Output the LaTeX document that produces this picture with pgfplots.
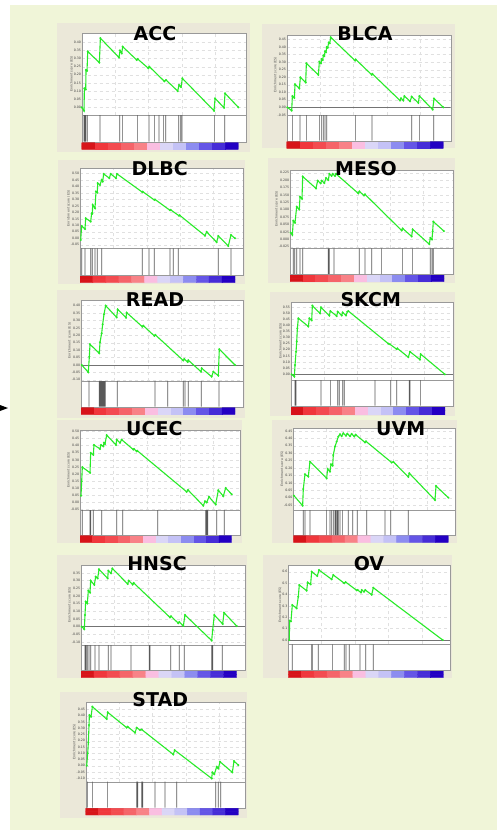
\documentclass[border=0pt]{standalone}
\usepackage{pgfplots}
\pgfplotsset{compat=1.18}
\usepackage{fontspec}
\setmainfont{DejaVu Sans}
\definecolor{bggreen}{RGB}{240,245,216}
\definecolor{framecol}{RGB}{235,232,217}
\definecolor{esgreen}{RGB}{40,235,40}
\newcommand\tickfont{\fontsize{3.2}{3.4}\selectfont}
\newcommand\titlefont{\fontsize{19}{19}\selectfont\bfseries}
\pgfplotsset{
  colormap={gseacb}{rgb255=(215,20,25) rgb255=(240,55,60) rgb255=(243,75,80) rgb255=(245,100,105) rgb255=(248,130,135) rgb255=(250,190,225) rgb255=(218,214,247) rgb255=(196,194,246) rgb255=(140,140,240) rgb255=(100,85,230) rgb255=(70,45,215) rgb255=(35,0,195)},
  es/.style={scale only axis, anchor=north west, xmin=0,
    axis background/.style={fill=white},
    axis line style={black!40, line width=0.3pt},
    xtick={100,200,300,400}, xticklabels={},
    ymajorgrids, xmajorgrids, major grid style={black!12, dashed, line width=0.3pt},
    major tick length=0pt,
    ylabel={Enrichment score (ES)},
    ylabel style={font=\tickfont, text=black!70, inner sep=0pt},
    yticklabel style={font=\tickfont, text=black!75, inner sep=0.6pt, /pgf/number format/.cd, fixed, fixed zerofill, precision=2, assume math mode=true},
  },
  hits/.style={scale only axis, anchor=north west, xmin=0, ymin=0, ymax=1,
    axis background/.style={fill=white}, ticks=none,
    axis line style={black!40, line width=0.3pt}},
  cbar/.style={scale only axis, anchor=north west, xmin=-0.5, xmax=11.5, ymin=-0.5, ymax=1.5, hide axis, colormap name=gseacb, colormap access=direct},
  esline/.style={esgreen, line width=1.1pt, mark=*, mark size=0.35pt, mark options={esgreen}},
  hitline/.style={ybar, bar width=0.7pt, fill=black!65, draw=none, mark=none},
  zeroline/.style={black!55, line width=0.35pt, mark=none},
}
\newcommand\cbarplot{\addplot[matrix plot*, mesh/cols=12, mesh/rows=2, point meta=explicit] coordinates {(0,0) [0] (1,0) [1] (2,0) [2] (3,0) [3] (4,0) [4] (5,0) [5] (6,0) [6] (7,0) [7] (8,0) [8] (9,0) [9] (10,0) [10] (11,0) [11] (0,1) [0] (1,1) [1] (2,1) [2] (3,1) [3] (4,1) [4] (5,1) [5] (6,1) [6] (7,1) [7] (8,1) [8] (9,1) [9] (10,1) [10] (11,1) [11]};}
\begin{document}
\begin{tikzpicture}
\path[use as bounding box] (0pt,0pt) rectangle (497pt,-830pt);
\fill[bggreen] (10pt,-5pt) rectangle (497pt,-830pt);
\fill[black] (0pt,-405pt) -- (8pt,-408pt) -- (0pt,-411pt) -- cycle;

% ---------- ACC ----------
\fill[framecol] (56.7pt,-23.3pt) rectangle (250pt,-151.7pt);
\begin{axis}[es, at={(81.7pt,-33.3pt)}, width=164pt, height=81.7pt, xmax=492, ymin=-0.047, ymax=0.455,
  ytick={0,0.05,0.1,0.15,0.2,0.25,0.3,0.35,0.4}]
\addplot[esline] coordinates {(0,0.000) (7,-0.021) (8,0.117) (12,0.110) (13,0.230) (16,0.225) (18,0.343) (53,0.275) (56,0.425) (112,0.306) (115,0.349) (120,0.332) (123,0.373) (165,0.291) (168,0.297) (200,0.240) (203,0.250) (248,0.160) (253,0.168) (288,0.100) (292,0.137) (298,0.125) (302,0.178) (397,-0.021) (400,0.055) (427,-0.002) (430,0.086) (470,0.000)};
\end{axis}
\begin{axis}[hits, at={(81.7pt,-115pt)}, width=164pt, height=26.7pt, xmax=492]
\addplot[hitline] coordinates {(7,1) (10,1) (13,1) (17,1) (55,1) (114,1) (122,1) (167,1) (202,1) (218,1) (232,1) (245,1) (252,1) (291,1) (297,1) (301,1) (398,1) (429,1)};
\end{axis}
\begin{axis}[cbar, at={(81.7pt,-142.7pt)}, width=156.6pt, height=6.6pt]
\cbarplot
\end{axis}
\node[font=\titlefont] at (155pt,-33.3pt) {ACC};

% ---------- BLCA ----------
\fill[framecol] (261.7pt,-24pt) rectangle (455pt,-148.3pt);
\begin{axis}[es, at={(286.7pt,-35pt)}, width=164pt, height=80pt, xmax=492, ymin=-0.051, ymax=0.48,
  ytick={-0.05,0,0.05,0.1,0.15,0.2,0.25,0.3,0.35,0.4,0.45}]
\addplot[zeroline] coordinates {(0,0) (492,0)};
\addplot[esline] coordinates {(2,0) (15,-0.022) (17,0.075) (23,0.062) (25,0.153) (38,0.125) (41,0.199) (57,0.165) (59,0.292) (95,0.215) (98,0.303) (103,0.292) (105,0.320) (108,0.314) (110,0.345) (113,0.340) (115,0.372) (118,0.366) (120,0.400) (123,0.395) (126,0.430) (129,0.425) (132,0.465) (205,0.310) (207,0.318) (255,0.216) (257,0.222) (340,0.045) (343,0.060) (350,0.045) (353,0.075) (370,0.040) (375,0.071) (395,0.029) (398,0.075) (438,-0.015) (442,0.058) (470,0)};
\end{axis}
\begin{axis}[hits, at={(286.7pt,-115pt)}, width=164pt, height=25.7pt, xmax=492]
\addplot[hitline] coordinates {(17,1) (40,1) (59,1) (98,1) (105,1) (110,1) (115,1) (120,1) (206,1) (256,1) (375,1) (398,1) (441,1)};
\end{axis}
\begin{axis}[cbar, at={(286.7pt,-141.7pt)}, width=156.6pt, height=6.6pt]
\cbarplot
\end{axis}
\node[font=\titlefont] at (365pt,-33.3pt) {BLCA};

% ---------- DLBC ----------
\fill[framecol] (58.3pt,-160pt) rectangle (245pt,-284pt);
\begin{axis}[es, at={(80pt,-168.3pt)}, width=163.3pt, height=80pt, xmax=490, ymin=-0.077, ymax=0.54,
  ytick={-0.05,0,0.05,0.1,0.15,0.2,0.25,0.3,0.35,0.4,0.45,0.5}]
\addplot[esline] coordinates {(2,-0.013) (5,0.095) (15,0.072) (17,0.155) (32,0.129) (35,0.193) (37,0.190) (38,0.258) (45,0.232) (48,0.361) (52,0.353) (53,0.425) (60,0.412) (65,0.451) (68,0.438) (71,0.497) (88,0.464) (92,0.497) (108,0.464) (111,0.497) (187,0.356) (188,0.360) (223,0.296) (225,0.300) (270,0.216) (272,0.220) (297,0.174) (299,0.178) (375,0.020) (380,0.050) (410,-0.030) (415,0.018) (445,-0.059) (453,0.026) (465,0.0)};
\end{axis}
\begin{axis}[hits, at={(80pt,-248.3pt)}, width=163.3pt, height=26.7pt, xmax=490]
\addplot[hitline] coordinates {(5,1) (15,1) (32,1) (37,1) (45,1) (52,1) (65,1) (187,1) (207,1) (223,1) (270,1) (280,1) (295,1) (415,1) (453,1)};
\end{axis}
\begin{axis}[cbar, at={(80pt,-276pt)}, width=155pt, height=6.7pt]
\cbarplot
\end{axis}
\node[font=\titlefont] at (159.7pt,-168.3pt) {DLBC};

% ---------- MESO ----------
\fill[framecol] (268.3pt,-158.3pt) rectangle (455pt,-283pt);
\begin{axis}[es, at={(290pt,-170pt)}, width=163.3pt, height=78.3pt, xmax=490, ymin=-0.030, ymax=0.234,
  ytick={-0.025,0,0.025,0.05,0.075,0.1,0.125,0.15,0.175,0.2,0.225},
  yticklabel style={/pgf/number format/precision=3}]
\addplot[esline] coordinates {(2,0.023) (7,0.015) (10,0.063) (15,0.056) (20,0.110) (28,0.101) (30,0.144) (36,0.137) (38,0.212) (78,0.172) (83,0.198) (92,0.189) (95,0.198) (103,0.190) (108,0.207) (115,0.200) (118,0.221) (125,0.214) (128,0.221) (135,0.214) (138,0.221) (205,0.155) (208,0.162) (222,0.148) (225,0.152) (335,0.030) (338,0.037) (365,0.010) (368,0.034) (418,-0.016) (421,0.005) (426,0.000) (428,0.026) (430,0.060) (462,0.028)};
\end{axis}
\begin{axis}[hits, at={(290pt,-248.3pt)}, width=163.3pt, height=25.7pt, xmax=490]
\addplot[hitline] coordinates {(10,1) (14,1) (20,1) (30,1) (38,1) (115,1) (118,1) (132,1) (208,1) (225,1) (245,1) (275,1) (338,1) (368,1) (421,1) (426,1) (430,1)};
\end{axis}
\begin{axis}[cbar, at={(290pt,-275pt)}, width=154pt, height=6.7pt]
\cbarplot
\end{axis}
\node[font=\titlefont] at (366pt,-168.3pt) {MESO};

% ---------- READ ----------
\fill[framecol] (56.7pt,-290pt) rectangle (245pt,-418pt);
\begin{axis}[es, at={(81pt,-300pt)}, width=162.3pt, height=81pt, xmax=487, ymin=-0.108, ymax=0.438,
  ytick={-0.1,-0.05,0,0.05,0.1,0.15,0.2,0.25,0.3,0.35,0.4}]
\addplot[zeroline] coordinates {(0,0) (487,0)};
\addplot[esline] coordinates {(2,0) (22,-0.049) (25,0.056) (27,0.139) (55,0.079) (57,0.153) (62,0.213) (65,0.274) (69,0.342) (74,0.400) (107,0.321) (110,0.375) (135,0.319) (137,0.353) (184,0.258) (187,0.265) (220,0.196) (223,0.203) (307,0.030) (310,0.040) (320,0.020) (322,0.032) (360,-0.045) (362,-0.022) (392,-0.079) (397,-0.045) (412,-0.072) (415,0.106) (462,0.0)};
\end{axis}
\begin{axis}[hits, at={(81pt,-381pt)}, width=162.3pt, height=25.7pt, xmax=487]
\addplot[hitline] coordinates {(24,1) (55,1) (58,1) (61,1) (64,1) (67,1) (70,1) (73,1) (109,1) (222,1) (260,1) (307,1) (312,1) (322,1) (361,1) (414,1)};
\end{axis}
\begin{axis}[cbar, at={(81pt,-407.7pt)}, width=154pt, height=6.6pt]
\cbarplot
\end{axis}
\node[font=\titlefont] at (155pt,-300pt) {READ};

% ---------- SKCM ----------
\fill[framecol] (270pt,-291.7pt) rectangle (455pt,-416pt);
\begin{axis}[es, at={(290.7pt,-301.7pt)}, width=162.6pt, height=78.3pt, xmax=488, ymin=-0.046, ymax=0.592,
  ytick={0,0.05,0.1,0.15,0.2,0.25,0.3,0.35,0.4,0.45,0.5,0.55}]
\addplot[zeroline] coordinates {(0,0) (488,0)};
\addplot[esline] coordinates {(3,0) (11,-0.019) (13,0.076) (16,0.185) (18,0.266) (20,0.375) (23,0.457) (53,0.390) (56,0.457) (63,0.440) (65,0.560) (88,0.497) (91,0.546) (116,0.478) (119,0.516) (138,0.475) (141,0.511) (153,0.480) (156,0.505) (166,0.480) (170,0.511) (173,0.516) (293,0.250) (298,0.245) (318,0.205) (320,0.212) (353,0.140) (358,0.185) (388,0.120) (390,0.165) (463,0.0)};
\end{axis}
\begin{axis}[hits, at={(290.7pt,-380pt)}, width=162.6pt, height=25.7pt, xmax=488]
\addplot[hitline] coordinates {(13,1) (16,1) (91,1) (119,1) (141,1) (146,1) (156,1) (161,1) (253,1) (300,1) (318,1) (356,1) (358,1) (390,1)};
\end{axis}
\begin{axis}[cbar, at={(290.7pt,-406.7pt)}, width=154.3pt, height=7.6pt]
\cbarplot
\end{axis}
\node[font=\titlefont] at (370.7pt,-300pt) {SKCM};

% ---------- UCEC ----------
\fill[framecol] (56.7pt,-420pt) rectangle (241.7pt,-543.3pt);
\begin{axis}[es, at={(80pt,-430pt)}, width=160pt, height=80pt, xmax=480, ymin=-0.053, ymax=0.51,
  ytick={-0.05,0,0.05,0.1,0.15,0.2,0.25,0.3,0.35,0.4,0.45,0.5}]
\addplot[esline] coordinates {(3,0.047) (5,0.149) (7,0.249) (30,0.209) (32,0.349) (40,0.335) (42,0.405) (60,0.377) (63,0.405) (70,0.395) (72,0.420) (75,0.412) (80,0.474) (108,0.405) (110,0.442) (120,0.420) (125,0.442) (160,0.372) (162,0.377) (170,0.360) (172,0.364) (320,0.075) (324,0.088) (370,-0.023) (375,0.009) (380,0.000) (387,0.040) (407,-0.014) (415,0.086) (430,0.044) (437,0.102) (455,0.058)};
\end{axis}
\begin{axis}[hits, at={(80pt,-510pt)}, width=160pt, height=25pt, xmax=480]
\addplot[hitline] coordinates {(7,1) (30,1) (32,1) (40,1) (65,1) (110,1) (128,1) (233,1) (377,1) (380,1) (383,1) (410,1) (433,1)};
\end{axis}
\begin{axis}[cbar, at={(80pt,-535.7pt)}, width=151.7pt, height=6.6pt]
\cbarplot
\end{axis}
\node[font=\titlefont] at (154.3pt,-429pt) {UCEC};

% ---------- UVM ----------
\fill[framecol] (271.7pt,-420pt) rectangle (456.7pt,-543.3pt);
\begin{axis}[es, at={(293.3pt,-428.3pt)}, width=161.7pt, height=81.7pt, xmax=485, ymin=-0.083, ymax=0.468,
  ytick={-0.05,0,0.05,0.1,0.15,0.2,0.25,0.3,0.35,0.4,0.45}]
\addplot[esline] coordinates {(2,0.014) (28,-0.054) (30,0.059) (35,0.158) (45,0.142) (50,0.243) (100,0.131) (103,0.194) (110,0.176) (113,0.225) (118,0.216) (120,0.288) (125,0.345) (130,0.378) (135,0.412) (140,0.428) (145,0.415) (150,0.435) (158,0.418) (162,0.432) (170,0.415) (175,0.430) (183,0.413) (187,0.425) (215,0.373) (218,0.380) (295,0.237) (300,0.242) (345,0.140) (348,0.165) (425,-0.016) (428,0.079) (465,0.0)};
\end{axis}
\begin{axis}[hits, at={(293.3pt,-510pt)}, width=161.7pt, height=25pt, xmax=485]
\addplot[hitline] coordinates {(30,1) (35,1) (50,1) (100,1) (110,1) (115,1) (120,1) (125,1) (128,1) (132,1) (135,1) (140,1) (148,1) (165,1) (178,1) (192,1) (220,1) (275,1) (292,1) (345,1)};
\end{axis}
\begin{axis}[cbar, at={(293.3pt,-535.7pt)}, width=155pt, height=6.6pt]
\cbarplot
\end{axis}
\node[font=\titlefont] at (400.7pt,-429pt) {UVM};

% ---------- HNSC ----------
\fill[framecol] (56.7pt,-555pt) rectangle (246.7pt,-678.3pt);
\begin{axis}[es, at={(81pt,-565pt)}, width=164pt, height=80pt, xmax=492, ymin=-0.12, ymax=0.402,
  ytick={-0.1,-0.05,0,0.05,0.1,0.15,0.2,0.25,0.3,0.35}]
\addplot[zeroline] coordinates {(0,0) (492,0)};
\addplot[esline] coordinates {(2,0) (10,-0.017) (12,0.076) (14,0.163) (19,0.152) (22,0.235) (27,0.222) (29,0.300) (40,0.272) (44,0.326) (50,0.315) (54,0.374) (80,0.315) (82,0.365) (90,0.348) (94,0.380) (140,0.278) (143,0.300) (155,0.274) (158,0.285) (267,0.060) (270,0.068) (292,0.022) (295,0.030) (307,0.005) (312,0.076) (392,-0.091) (395,-0.022) (400,0.076) (425,0.017) (429,0.091) (467,0.004)};
\end{axis}
\begin{axis}[hits, at={(81pt,-645pt)}, width=164pt, height=25pt, xmax=492]
\addplot[hitline] coordinates {(12,1) (15,1) (19,1) (24,1) (29,1) (42,1) (54,1) (82,1) (90,1) (150,1) (205,1) (207,1) (269,1) (295,1) (310,1) (392,1) (395,1) (424,1)};
\end{axis}
\begin{axis}[cbar, at={(81pt,-671pt)}, width=155.7pt, height=6.7pt]
\cbarplot
\end{axis}
\node[font=\titlefont] at (157pt,-563.3pt) {HNSC};

% ---------- OV ----------
\fill[framecol] (263.3pt,-555pt) rectangle (451.7pt,-678.3pt);
\begin{axis}[es, at={(288.3pt,-565pt)}, width=161.7pt, height=79.3pt, xmax=485, ymin=-0.038, ymax=0.66,
  ytick={0,0.1,0.2,0.3,0.4,0.5,0.6},
  yticklabel style={/pgf/number format/precision=1}]
\addplot[zeroline] coordinates {(0,0) (485,0)};
\addplot[esline] coordinates {(3,0) (4,0.170) (8,0.164) (12,0.308) (25,0.279) (30,0.381) (33,0.484) (55,0.434) (58,0.507) (67,0.490) (70,0.601) (87,0.563) (92,0.616) (130,0.534) (135,0.572) (168,0.499) (172,0.510) (205,0.437) (208,0.440) (218,0.418) (220,0.440) (227,0.425) (231,0.440) (250,0.398) (255,0.460) (463,0.0)};
\end{axis}
\begin{axis}[hits, at={(288.3pt,-644.3pt)}, width=161.7pt, height=25.7pt, xmax=485]
\addplot[hitline] coordinates {(12,1) (70,1) (72,1) (90,1) (133,1) (168,1) (173,1) (183,1) (215,1) (232,1) (255,1)};
\end{axis}
\begin{axis}[cbar, at={(288.3pt,-671pt)}, width=155pt, height=6.7pt]
\cbarplot
\end{axis}
\node[font=\titlefont] at (369pt,-564pt) {OV};

% ---------- STAD ----------
\fill[framecol] (60pt,-691.7pt) rectangle (246.7pt,-818pt);
\begin{axis}[es, at={(85.7pt,-701.7pt)}, width=159.3pt, height=80pt, xmax=478, ymin=-0.128, ymax=0.513,
  ytick={-0.1,-0.05,0,0.05,0.1,0.15,0.2,0.25,0.3,0.35,0.4,0.45}]
\addplot[esline] coordinates {(3,0) (6,0.099) (8,0.187) (10,0.326) (11,0.406) (16,0.393) (20,0.473) (63,0.374) (66,0.428) (123,0.305) (126,0.313) (148,0.265) (153,0.305) (163,0.286) (168,0.290) (263,0.090) (267,0.125) (378,-0.102) (380,-0.053) (386,-0.068) (393,-0.008) (398,-0.022) (403,0.032) (440,-0.053) (445,0.037) (458,0.005)};
\end{axis}
\begin{axis}[hits, at={(85.7pt,-781.7pt)}, width=159.3pt, height=26pt, xmax=478]
\addplot[hitline] coordinates {(5,1) (20,1) (65,1) (153,1) (156,1) (168,1) (171,1) (208,1) (238,1) (273,1) (390,1) (398,1) (405,1)};
\end{axis}
\begin{axis}[cbar, at={(85.7pt,-808.3pt)}, width=152.6pt, height=6.7pt]
\cbarplot
\end{axis}
\node[font=\titlefont] at (160.3pt,-700pt) {STAD};
\end{tikzpicture}
\end{document}
